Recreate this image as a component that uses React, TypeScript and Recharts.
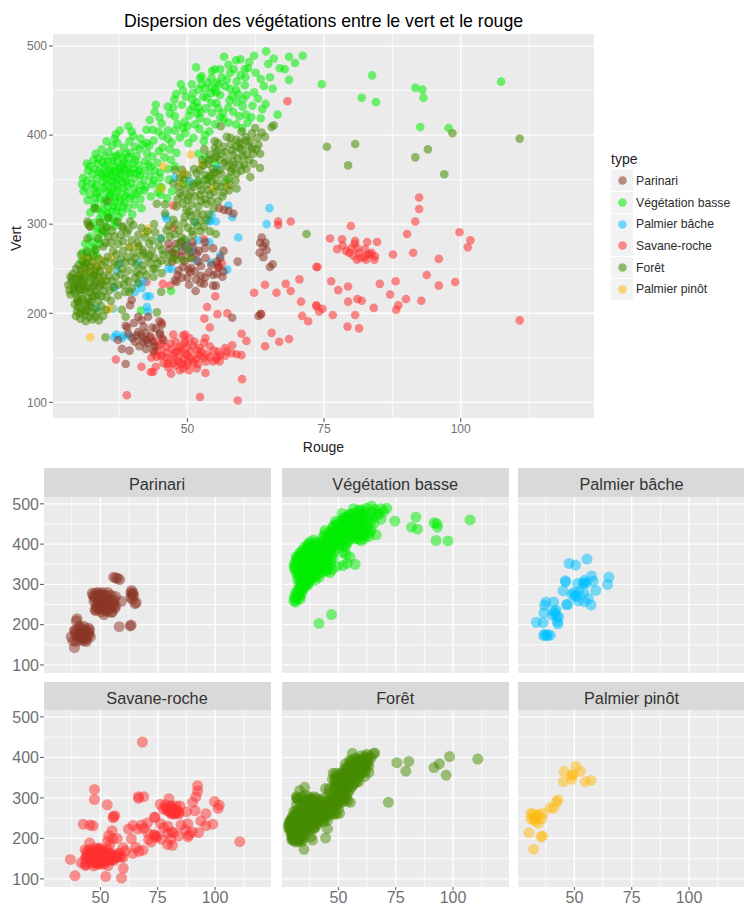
import React from 'react';
import { ScatterChart, Scatter, XAxis, YAxis, CartesianGrid, Label } from 'recharts';

type Pt = [number, number];

const parinari: Pt[] = [
  [63.6,285],[63.3,279],[64.3,279],[63.9,275],[64.5,271],[63.2,268],[63.9,263],[65.6,255],[65.1,252],[63,197],[63.4,199],
  [58.2,195],[59.2,258],[56.6,270],[54.7,273],[53.2,273],[52.1,270],[51.7,267],[50.9,280],[48.9,280],[47.9,278],[47.3,268],
  [47.9,266],[48.9,264],[50.2,249],[50.5,246],[50.7,251],[52.5,253],[52.5,242],[53.9,246],[54.7,243],[56.4,241],[56.6,247],
  [55.4,244],[53,233],[52.4,234],[54.7,231],[55.2,231],[50.3,232],[51.5,225],[47.7,237],[48,235],[49,240],[39.8,215],[39.5,209],
  [41,196],[42.8,196],[44.9,191],[45.3,187],[42,185],[43.6,184],[39,184],[38.7,186],[41,179],[40.7,175],[41.8,172],[41.9,168],
  [42.8,166],[44,163],[40.4,168],[44.9,176],[37.3,170],[38,160],[39.4,158],[38.7,143],[41.5,176],[42.5,170],[43.2,174],[41.2,163],
  [42.4,160],[43.7,168],[45,178],[44.2,183],[56.7,316],[57.5,315],[58.4,312],[55.8,318],[46.5,278],[49.6,276],[51,275],[56,262],[55.4,258],
  [49.5,258],[50.8,262],[52,258],[53.3,262],[54.4,254],[51.4,247],[49.2,252],[48.4,248],[50,240],[51.6,238],[53.2,240],[49,270],
  [50.3,268],[53.2,280],[46.8,272],[47.2,258],[48.2,243],[55.8,252],[42.4,178],[40,172],[39.2,177],[43.8,158],[45.6,170],[40.2,189],[41.6,192],
];

const vegetationBasse: Pt[] = [
  [56.7,488],[64.4,494],[71.1,489],[69.7,481],[62.2,489],[61.3,482],[59.7,485],[58.9,484],[57.5,479],[51.6,476],[52.3,464],[52.6,466],
  [54.5,472],[55,474],[56,474],[54.4,464],[56.3,465],[57.2,462],[59,460],[61.1,475],[60.5,474],[59.7,467],[66.9,475],[67.8,474],
  [65.1,465],[68.6,462],[65.6,452],[60.5,456],[62.2,448],[60.8,445],[58.9,451],[57.8,452],[54.4,454],[55,451],[55.3,448],[50.8,457],
  [48.8,457],[47.9,446],[49.7,443],[52,451],[52.9,443],[51.7,437],[53.5,442],[54.4,436],[55.3,436],[56,445],[57.7,439],[59,437],
  [60.1,432],[64.3,435],[66.5,423],[63.4,419],[61.7,420],[60.7,423],[54.5,425],[55.6,430],[50.5,428],[51.1,432],[52,431],[44.2,434],
  [46.4,432],[47.4,431],[47.7,421],[50.3,422],[52.3,419],[56,420],[56.6,418],[57.5,414],[58.9,412],[60,408],[43.1,417],[44.9,420],
  [49.5,415],[42.5,406],[43.6,406],[39.2,410],[44.7,404],[46.4,405],[47.7,405],[49.2,408],[51.4,412],[48.6,397],[46.4,396],[51.1,397],
  [53.2,400],[50.2,391],[53,393],[48,380],[52,379],[36.9,401],[40.1,399],[36.7,396],[39.4,393],[42.5,391],[43.8,394],[41.8,389],
  [43,388],[45.5,386],[46.8,384],[44.8,382],[42.6,380],[41.2,384],[38.4,386],[36.2,388],[34.3,384],[33.2,379],[35.6,381],[37.5,379],
  [39.6,380],[40.7,376],[43.6,376],[45.8,375],[47,372],[44.5,369],[42.3,371],[40.4,372],[38.1,374],[36.4,375],[34.9,376],[32.8,372],
  [31.6,368],[33.6,368],[35.4,370],[37.2,369],[39,367],[41.2,366],[43.3,364],[46.4,362],[47.7,365],[45,358],[42.2,360],[40.2,362],
  [38.4,363],[36.6,364],[34.8,363],[33.1,362],[31.8,360],[32.6,356],[34.2,357],[36,358],[37.7,358],[39.5,357],[41.3,355],[43.2,354],
  [44.9,352],[46.6,350],[42,350],[40.3,351],[38.6,352],[36.9,353],[35.1,352],[33.4,351],[31.6,349],[30.7,345],[32.5,346],[34.4,347],
  [36.2,348],[38,347],[39.7,346],[41.4,344],[43.6,345],[45,342],[47.2,337],[44.6,336],[42.1,338],[40.2,340],[38.3,341],[36.5,342],
  [34.7,341],[32.9,340],[31,337],[33.4,335],[35.3,336],[37.1,336],[38.9,335],[40.6,334],[43.3,331],[45.1,333],[41.4,328],[39.4,329],
  [37.6,330],[35.8,331],[34,329],[31.7,327],[33,323],[34.8,324],[36.7,325],[38.5,324],[40.3,322],[41.6,318],[39.1,318],[37.2,319],
  [35.5,319],[33.6,317],[32.2,313],[34.3,312],[36.1,314],[38,313],[39.9,311],[37.4,308],[35.6,308],[33.9,306],[32.8,301],[34.7,302],
  [36.8,302],[35.2,296],[33.5,292],[32.2,286],[33.8,283],[31.3,278],[32.7,274],[30.8,268],[31.9,263],[31.3,256],[30.6,259],[33.1,270],
  [41.5,203],[47,225],[33.4,264],[34.4,290],[36.6,298],[38.2,320],[37.1,345],[35.9,361],[37.9,366],[36.3,355],[35.2,344],[38.8,349],
  [37.3,350],[36.1,339],[39.4,358],[34.6,354],[37.8,356],[35.7,349],[37.6,362],
  [74.6,457],[83.8,467],[107.4,460],[91.7,453],[93,451],[93.2,442],[81.9,442],[84.5,437],[92.6,409],[97.8,408],
  [45.3,341],[46.3,329],[49.4,345],[52,347],[53.8,352],[53.3,375],[55,368],[57.3,350],
  // second pass over the solid parts of the cloud
  [33.7,374],[34.4,370],[35.1,366],[36.3,371],[37,377],[38.4,370],[39.2,375],[40,368],[41.1,360],[42.9,367],[44,360],[43.8,349],
  [35.9,334],[36.6,330],[37.8,327],[38.6,332],[40,331],[41.2,337],[42.4,342],[33.2,343],[34,337],[32.2,333],[31.4,341],[30.9,352],
  [32.1,365],[33.8,359],[35.3,357],[36.8,360],[38.9,361],[40.7,357],[37.4,339],[39,343],[35,328],[33.2,330],[36.4,321],[34.6,316],
  [35.4,311],[37,315],[32.9,318],[33.7,296],[35,291],[36.2,306],[34,278],[32.6,280],[31.6,270],[38.8,379],[40.4,387],[37.2,391],[35.2,393],
  [39.8,404],[37.6,405],[41.4,396],[45.4,399],[47.1,392],[49.6,402],[52.2,407],[54,404],[55.1,412],[53.6,415],[51.8,424],[53.4,430],
  [49,434],[47.6,440],[50.9,440],[52.6,457],[53.7,459],[55.8,457],[56.9,455],[58.2,444],[59.3,446],[60.2,440],[57.5,431],[58.4,426],
  [59.5,421],[61,414],[56.5,425],[54.3,447],[57.8,470],[58.5,474],[60.6,465],[62.5,470],[63.4,463],[64,455],[62.9,441],[63.7,429],[61.9,433],
  [55.4,459],[53.2,452],[51,447],[49.2,450],[46.8,424],[45.3,413],[48.2,412],[44,426],[50,410],[52.4,426],[64.8,480],[65.8,486],[68.6,488],
];

const palmierBache: Pt[] = [
  [64.5,300],[59.3,285],[57.3,249],[54.3,257],[51.7,259],[46.5,250],[47.1,250],[49.8,280],[50.3,271],[51,270],[54,280],[54,303],
  [55.2,303],[36.4,205],[36.7,229],[37,176],[38.3,175],[39.5,174],[36.6,173],[38,172],[42.6,207],[42.8,202],[42.5,219],[43.1,219],
  [41.6,228],[40.4,224],[42,236],[41.1,233],[37.6,256],[37,248],[41,256],[45.1,284],[33.4,206],[47.7,352],[50.5,348],[46,309],[51.4,302],
  [54.4,310],[54.1,304],[57.5,321],[58.2,308],[65,318],[55.5,363],[46.2,306],[49,275],[52,282],[56,265],
];

const savaneRoche: Pt[] = [
  [92.4,330],[92.4,317],[91.7,303],[79.9,298],[99.8,291],[101.8,282],[101.3,274],[90.2,289],[76.1,284],[78.3,283],[80.7,281],[82.9,280],
  [84.7,280],[77.4,272],[80,273],[81.1,273],[87.6,266],[91.3,268],[96,261],[83.7,268],[83.4,266],[81,260],[81.6,262],[82.4,263],[82.7,260],
  [84.2,260],[73.8,252],[76.3,236],[79.4,230],[77.6,226],[85.2,233],[88.1,236],[87.1,221],[93.8,243],[96,231],[99,235],[79.4,213],[81.1,216],
  [81.9,214],[90,216],[92.8,214],[84.1,206],[88.6,209],[88.2,204],[73.6,209],[74.7,205],[74.1,202],[76.6,198],[80.7,198],[79.3,185],[81.4,183],
  [110.8,192],[68.3,438],[47.4,321],[66.6,303],[66.6,299],[68.9,303],
  [38.9,108],[52.3,106],[59.2,102],[60,126],[36.9,148],[41.6,140],[43.3,134],[43.7,134],[47,132],[53.3,133],[51.7,138],[50.3,136],[48.6,136],
  [49.2,138],[43.4,150],[44.4,151],[45.6,144],[45.3,153],[47.4,144],[47.4,155],[48,157],[48.9,157],[49.6,154],[50.5,157],[51.7,159],[53.5,154],
  [54.7,146],[55.3,148],[56,153],[55.6,157],[56.9,161],[54.1,163],[58.1,155],[59,154],[59.9,153],[58.2,164],[47.4,176],[49.2,175],[49.6,176],
  [47.9,168],[49.5,168],[51.3,168],[52.3,161],[53.3,172],[53,167],[53.1,194],[54.1,184],[53.6,207],[55.5,199],[57.3,200],[55.1,219],[59.9,177],
  [60.8,169],[64.2,163],[65.4,178],[66.8,168],[68.6,171],[63.5,199],[62.2,223],[64.2,232],[66.3,223],[68,233],[68.9,225],[70.5,238],[70.8,213],
  [71,197],[72.1,191],[73.6,208],[73.6,252],[45.5,233],[46.8,231],[42.5,235],[43.3,172],[45.3,189],[45.3,166],[53,283],[55.6,254],[56.3,256],
  [55.6,251],[47.4,296],[45.1,152],[46.2,150],[46.7,147],[48.2,150],[49.4,149],[50.6,150],[51.6,149],[52.4,152],[50.1,145],[48.8,144],[44.5,158],
  [46,162],[47.2,160],[48.5,162],[50,162],[51,164],[52.6,157],[54.8,158],[55.4,151],[57.2,157],[49.9,141],[44.2,140],[46.5,139],[51.2,144],[53.4,146],
  [46.9,166],[45.4,172],[44.1,168],[50.4,172],[78.4,276],[79.6,268],[80.3,265],[81.4,268],[82.5,272],[83,266],[84.3,264],[79,270],[80.6,278],
  [46.1,156],[47.6,152],[48.3,146],[49.2,143],[50,153],[50.9,147],[52,143],[53,150],[54.1,151],[47.8,141],[46.3,143],[48.7,160],[44.8,163],
  [43.9,155],[49.5,166],[52,154],[56.9,152],[55.9,146],
];

const foret: Pt[] = [
  [71.8,289],[35,173],[38.7,196],[44.4,201],[45.2,224],[38,204],[40.9,234],[38.6,239],[36.6,257],[38.6,257],[39.8,258],[37.4,232],[38.6,224],[36.4,229],
  [35.8,226],[37.3,220],[39.4,224],[41.9,248],[43.7,250],[44,262],[45.6,266],[46.8,286],[46.2,293],[43.6,282],[43,278],[41.8,271],[41.1,275],[39.8,282],
  [38.9,290],[37.3,278],[36.7,286],[40.1,299],[38.2,297],[35.2,297],[31.8,300],[31.7,284],[32.2,297],[34.5,293],[35.5,286],[48.6,279],[49.2,260],[50.5,262],
  [48,260],[54.1,292],[55.2,289],[47.5,262],[46.4,258],[42.7,262],[41.6,265],[40.2,268],[38.2,270],[37,266],[39,263],[40.6,254],[39.2,248],[38,250],[37.1,254],
  [41.8,254],[43.2,256],[44.1,250],[42.5,243],[40.7,246],[40.9,279],[43.5,270],[44.8,276],[45.4,271],[44.1,291],[42.3,285],
  [28.6,241],[28.8,235],[29.3,229],[28.4,226],[28.6,221],[29.8,217],[30.6,221],[31.3,226],[30.1,232],[29.8,238],[30.4,244],[31.2,240],[32,235],[32.8,230],[32.1,224],
  [33,219],[33.7,214],[34.3,219],[34.7,225],[33.9,230],[33.4,236],[32.8,242],[32,247],[31.2,252],[30.5,249],[30.9,258],[31.8,262],[32.6,257],[33.4,252],[34,247],
  [34.6,242],[35.2,236],[30.5,266],[31.6,269],[32.8,265],[33.8,261],[35,258],[34.4,254],[35.6,250],[30,207],[29.8,202],[29.6,197],[30.4,194],[31.2,198],[31.6,204],
  [32.2,209],[31,212],[32.4,201],[33.2,196],[33.8,192],[34.6,197],[35.1,204],[32.6,193],[31.4,191],[30.1,212],[36,214],[35.2,218],[29.4,210],[28.2,232],[29,244],
  [29.6,250],[33.2,247],[31,231],[30.2,226],[32.4,213],[33.3,225],[33.9,240],[29.4,223],[31.8,217],[30.7,235],[32.6,219],
  [33.1,318],[35.3,326],[31.7,303],[32.2,298],[35.5,307],[38,297],[41.6,296],[45.9,312],[44.4,323],[45.9,322],[37.2,303],[39.5,303],
  [56.1,410],[59.9,404],[62.4,408],[65.4,409],[65.8,411],[55,393],[55.6,391],[56.6,387],[57.2,398],[57.9,397],[58.9,387],[59.6,385],[61.5,393],[63,389],[61.8,385],
  [63.3,379],[60.8,378],[63.3,363],[61.5,353],[60.4,367],[59.6,366],[58.4,366],[57.2,365],[58,359],[59,357],[59,340],[57.6,338],[56.6,336],[55.3,343],[54.1,333],
  [53.5,323],[52.3,333],[52.9,366],[52.3,361],[51.7,357],[54.1,378],[55.3,376],[53.7,368],[54.7,357],[47.7,361],[49,361],[47.4,346],[48.6,335],[48.2,328],[49.2,323],
  [50.2,331],[50.8,322],[49.8,316],[51.7,312],[49.5,308],[47.4,305],[52.7,372],[54,372],[55,385],[55.4,382],[56.2,379],[54.6,362],[53.3,355],[52,349],[50.9,345],
  [49.7,340],[48.4,342],[49.1,332],[50,327],[48,320],[52.6,338],[53.6,345],[55.2,350],[56.2,356],[57.3,372],[58.4,378],[60,383],[61.3,387],[62.8,397],[60.8,394],
  [59.5,392],[58.2,383],[56.8,369],[55.9,361],[54.5,348],[53.2,328],[52,320],[50.6,309],[49.3,301],[47.8,300],[46.6,298],[48.5,293],[50.1,296],[51.2,303],[52.8,311],
  [47.6,289],[48.9,285],[50,272],[51,288],[52.4,292],[53.5,305],
  [75.5,387],[80.7,390],[79.4,366],[91.7,375],[94,384],[97,356],[98.5,402],[110.8,396],
  // second pass over the solid parts of the cloud
  [29.2,226],[29.9,229],[30.8,227],[31.6,229],[30.3,239],[31.4,244],[32.4,239],[33.1,233],[34.2,233],[29.5,233],[28.9,239],[30,242],[31,236],[32.3,228],
  [33.5,221],[30.8,216],[31.9,212],[29.9,214],[30.7,204],[31.5,208],[31.2,202],[32,196],[32.9,205],[33.6,201],[34.2,208],[30.4,200],[30.1,254],[31.4,256],
  [32.2,252],[33,243],[34.8,232],[35.6,242],[36.2,236],[36.9,241],[37.8,244],[38.4,232],[39.2,236],[39.8,228],[40.4,240],[41.2,243],[35.4,263],[36.4,270],
  [37.8,261],[33.2,272],[34.6,275],[36,279],[38.2,281],[39.4,274],[40.4,262],[42,268],[43,265],[44.6,256],[45.3,245],[43.8,241],[45.2,259],[46.7,266],[47.9,272],
  [33.6,284],[35,279],[37.8,288],[39.2,294],[41,288],[42.7,292],[36.2,293],[34,302],[43.9,300],[45.2,284],
  [49.6,283],[50.8,292],[51.8,298],[53,297],[53.9,311],[54.8,318],[55.6,326],[56.4,331],[55,336],[53.7,338],[52.5,326],[51.4,331],[50.6,336],[51.2,342],[52.3,344],
  [53.4,350],[54.1,354],[55.1,358],[56.7,347],[57.6,352],[58.8,349],[59.8,360],[60.8,362],[57.8,344],[58.4,370],[59.2,374],[60.1,376],[61.3,372],[62,379],[57,381],
  [57.9,390],[59,395],[60.6,398],[61.8,402],[63.6,403],[64.2,398],[62.1,368],[62.6,384],[56,372],[54.9,374],[53.1,384],[51.2,362],[50,355],[49.4,350],[48.6,352],
  [50.3,314],[52.4,304],[54.4,326],[56.1,342],[58.2,362],[60,390],
];

const palmierPinot: Pt[] = [
  [50.6,378],[45.6,365],[49.4,357],[48.9,356],[48.8,346],[45.2,340],[54.7,340],[57.3,343],[52.6,366],[42.8,295],[42.2,290],[39.4,275],[41,275],
  [36.1,262],[31,262],[32.2,260],[32.2,248],[34.3,237],[36.1,206],[30.2,214],[32.2,173],[35.8,249],[33.8,250],[33,254],[32.8,243],[34.2,259],[35.4,204],[31,248],
];

const seriesList = [
  { name: 'Parinari', points: parinari, color: '#8B3626' },
  { name: 'Végétation basse', points: vegetationBasse, color: '#00EE00' },
  { name: 'Palmier bâche', points: palmierBache, color: '#00BFFF' },
  { name: 'Savane-roche', points: savaneRoche, color: '#FF3030' },
  { name: 'Forêt', points: foret, color: '#458B00' },
  { name: 'Palmier pinôt', points: palmierPinot, color: '#FFB90F' },
];

// draw order of the overview, forest mostly ends up on top
const overviewOrder = ['Savane-roche', 'Végétation basse', 'Palmier bâche', 'Parinari', 'Palmier pinôt', 'Forêt'];

const xTicks = [50, 75, 100];
const xMinor = [37.5, 62.5, 87.5, 112.5];
const yTicks = [100, 200, 300, 400, 500];
const yMinor = [150, 250, 350, 450];
const xDomain = [25.4, 124.4];
const mainYDomain = [82.4, 513.5];
const facetYDomain = [80, 517];

const FONT = '"Liberation Sans", Arial, sans-serif';
const TICK_COLOR = '#6f6f6f';

const toData = (pts: Pt[]) => pts.map(([x, y]) => ({ x, y }));

const dot = (r: number, color: string, opacity: number) => (props: any) => (
  <circle cx={props.cx} cy={props.cy} r={r} fill={color} fillOpacity={opacity} />
);

function Overview() {
  const ordered = overviewOrder.map(n => seriesList.find(s => s.name === n)!);
  return (
    <div style={{ position: 'absolute', left: 0, top: 0 }}>
      <ScatterChart width={744} height={460} margin={{ top: 34, right: 150, bottom: 12, left: 23 }}>
        <CartesianGrid fill="#EBEBEB" stroke="#FFFFFF" strokeWidth={0.8} horizontalValues={yMinor} verticalValues={xMinor} />
        <CartesianGrid stroke="#FFFFFF" strokeWidth={1.3} horizontalValues={yTicks} verticalValues={xTicks} />
        <XAxis
          type="number"
          dataKey="x"
          domain={xDomain}
          ticks={xTicks}
          interval={0}
          allowDataOverflow
          height={30}
          axisLine={false}
          tickSize={4}
          tickMargin={2}
          stroke="#555555"
          tick={{ fill: TICK_COLOR, fontSize: 12, fontFamily: FONT }}
        >
          <Label value="Rouge" position="insideBottom" offset={-4} fill="#222222" fontSize={14} fontFamily={FONT} />
        </XAxis>
        <YAxis
          type="number"
          dataKey="y"
          domain={mainYDomain}
          ticks={yTicks}
          interval={0}
          allowDataOverflow
          width={30}
          axisLine={false}
          tickSize={4}
          tickMargin={2}
          stroke="#555555"
          tick={{ fill: TICK_COLOR, fontSize: 12, fontFamily: FONT }}
        >
          <Label value="Vert" angle={-90} position="left" offset={0} dx={-7} fill="#222222" fontSize={14} fontFamily={FONT} />
        </YAxis>
        {ordered.map(s => (
          <Scatter key={s.name} data={toData(s.points)} shape={dot(4.3, s.color, 0.55)} isAnimationActive={false} />
        ))}
      </ScatterChart>
      <div
        style={{
          position: 'absolute', left: 53, width: 541, top: 12, textAlign: 'center',
          fontFamily: FONT, fontSize: 17.7, lineHeight: '18px', color: '#000',
        }}
      >
        Dispersion des végétations entre le vert et le rouge
      </div>
    </div>
  );
}

function TypeLegend() {
  return (
    <div style={{ position: 'absolute', left: 611, top: 151, fontFamily: FONT, color: '#222' }}>
      <div style={{ fontSize: 14, lineHeight: '17px', height: 19 }}>type</div>
      {seriesList.map(s => (
        <div key={s.name} style={{ display: 'flex', alignItems: 'center', height: 21.7 }}>
          <svg width={22} height={21} style={{ background: '#F2F2F2', display: 'block' }}>
            <circle cx={11.5} cy={10.5} r={4.3} fill={s.color} fillOpacity={0.55} />
          </svg>
          <span style={{ fontSize: 12.2, marginLeft: 3, color: '#2b2b2b' }}>{s.name}</span>
        </div>
      ))}
    </div>
  );
}

const colLeft = [43.5, 281.7, 518];
const rowTop = [497, 710];
const stripTop = [468, 681.7];
const panelW = 227;
const panelH = [176, 177];

function Facet({ index }: { index: number }) {
  const s = seriesList[index];
  const col = index % 3;
  const row = Math.floor(index / 3);
  const showY = col === 0;
  const showX = row === 1;
  const yW = showY ? 44 : 0;
  const xH = showX ? 24 : 0;
  const left = colLeft[col];
  const stripH = rowTop[row] - stripTop[row];
  return (
    <>
      <div
        style={{
          position: 'absolute', left, top: stripTop[row], width: panelW, height: stripH,
          background: '#D9D9D9', textAlign: 'center', fontFamily: FONT, fontSize: 16.3, color: '#333',
          lineHeight: `${stripH + 4}px`,
        }}
      >
        {s.name}
      </div>
      <div style={{ position: 'absolute', left: left - yW, top: rowTop[row] }}>
        <ScatterChart
          width={panelW + yW}
          height={panelH[row] + xH}
          margin={{ top: 0, right: 0, bottom: 0, left: 0 }}
        >
          <CartesianGrid fill="#EBEBEB" stroke="#FFFFFF" strokeWidth={0.8} horizontalValues={yMinor} verticalValues={xMinor} />
          <CartesianGrid stroke="#FFFFFF" strokeWidth={1.3} horizontalValues={yTicks} verticalValues={xTicks} />
          <XAxis
            type="number"
            dataKey="x"
            domain={xDomain}
            ticks={xTicks}
            interval={0}
            allowDataOverflow
            hide={!showX}
            height={xH}
            axisLine={false}
            tickSize={3}
            tickMargin={2}
            stroke="#555555"
            tick={{ fill: TICK_COLOR, fontSize: 16, fontFamily: FONT }}
          />
          <YAxis
            type="number"
            dataKey="y"
            domain={facetYDomain}
            ticks={yTicks}
            interval={0}
            allowDataOverflow
            hide={!showY}
            width={yW}
            axisLine={false}
            tickSize={4}
            tickMargin={1}
            stroke="#555555"
            tick={{ fill: TICK_COLOR, fontSize: 16, fontFamily: FONT }}
          />
          <Scatter data={toData(s.points)} shape={dot(5.5, s.color, 0.5)} isAnimationActive={false} />
        </ScatterChart>
      </div>
    </>
  );
}

export default function App() {
  return (
    <div style={{ position: 'absolute', left: 0, top: 0, width: 744, height: 909, overflow: 'hidden', background: '#fff' }}>
      <Overview />
      <TypeLegend />
      {seriesList.map((s, i) => (
        <Facet key={s.name} index={i} />
      ))}
    </div>
  );
}
